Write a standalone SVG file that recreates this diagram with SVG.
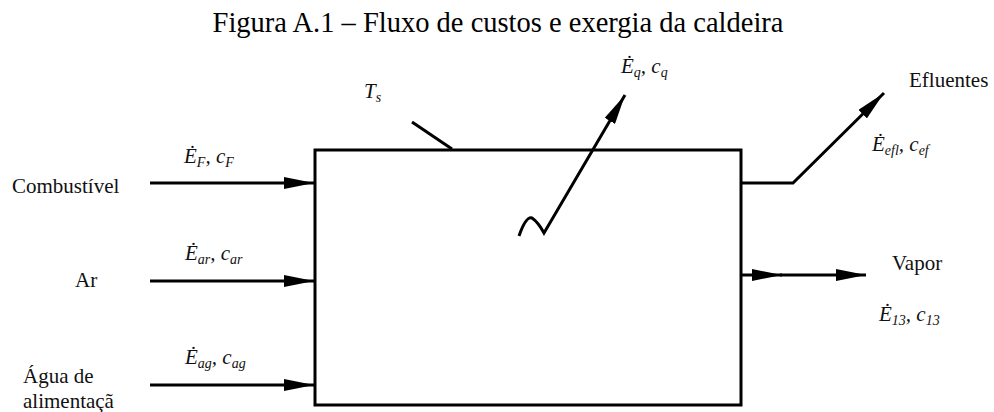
<svg xmlns="http://www.w3.org/2000/svg" width="994" height="412" viewBox="0 0 994 412">
<style>
.ln{stroke:#000;stroke-width:3;fill:none;stroke-linecap:butt;stroke-linejoin:miter}
.t{font-family:"Liberation Serif","Times New Roman",serif;font-size:21px;fill:#111}
.m{font-family:"Liberation Serif","Times New Roman",serif;font-style:italic;font-size:21px;fill:#111}
.s{font-size:14px}
.title{font-family:"Liberation Serif","Times New Roman",serif;font-size:28.5px;fill:#000}
</style>
<defs>
<marker id="ah" markerWidth="10" markerHeight="4" refX="10" refY="2" orient="auto" markerUnits="strokeWidth" viewBox="0 0 10 4">
<path d="M0,0 L10,2 L0,4 z" fill="#000"/>
</marker>
</defs>
<rect width="994" height="412" fill="#fff"/>
<text class="title" x="498" y="32" text-anchor="middle">Figura A.1 – Fluxo de custos e exergia da caldeira</text>
<g id="caldeira">
<rect class="ln" x="315" y="150" width="426" height="255"/>
</g>
<g id="connectors">
<line class="ln" x1="150" y1="183" x2="314" y2="183" marker-end="url(#ah)"/>
<line class="ln" x1="150" y1="281" x2="314" y2="281" marker-end="url(#ah)"/>
<line class="ln" x1="150" y1="385" x2="314" y2="385" marker-end="url(#ah)"/>
<line class="ln" x1="412" y1="122" x2="452" y2="149"/>
<path class="ln" d="M519,236 Q526,216 532,218 Q538,222 544,233 L625,95" marker-end="url(#ah)"/>
<path class="ln" d="M741,183 L793,183 L884,93" marker-end="url(#ah)"/>
<line class="ln" x1="741" y1="275" x2="782" y2="275" marker-end="url(#ah)"/>
<line class="ln" x1="780" y1="275" x2="866" y2="275" marker-end="url(#ah)"/>
</g>
<g id="combustivel">
<text class="t" x="12" y="193">Combustível</text>
<text class="m" x="184" y="163">Ė<tspan class="s" dy="4">F</tspan><tspan dy="-4">, c</tspan><tspan class="s" dy="4">F</tspan></text>
</g>
<g id="ar">
<text class="t" x="75" y="287">Ar</text>
<text class="m" x="185" y="260">Ė<tspan class="s" dy="4">ar</tspan><tspan dy="-4">, c</tspan><tspan class="s" dy="4">ar</tspan></text>
</g>
<g id="agua">
<text class="t" x="23" y="383">Água de</text>
<text class="t" x="23" y="408">alimentaçã</text>
<text class="m" x="185" y="364">Ė<tspan class="s" dy="4">ag</tspan><tspan dy="-4">, c</tspan><tspan class="s" dy="4">ag</tspan></text>
</g>
<g id="ts">
<text class="m" x="364" y="98">T<tspan class="s" dy="4">s</tspan></text>
</g>
<g id="calor">
<text class="m" x="621" y="73">Ė<tspan class="s" dy="4">q</tspan><tspan dy="-4">, c</tspan><tspan class="s" dy="4">q</tspan></text>
</g>
<g id="efluentes">
<text class="t" x="909" y="87">Efluentes</text>
<text class="m" x="872" y="151">Ė<tspan class="s" dy="4">efl</tspan><tspan dy="-4">, c</tspan><tspan class="s" dy="4">ef</tspan></text>
</g>
<g id="vapor">
<text class="t" x="892" y="270">Vapor</text>
<text class="m" x="879" y="321">Ė<tspan class="s" dy="4">13</tspan><tspan dy="-4">, c</tspan><tspan class="s" dy="4">13</tspan></text>
</g>
</svg>
